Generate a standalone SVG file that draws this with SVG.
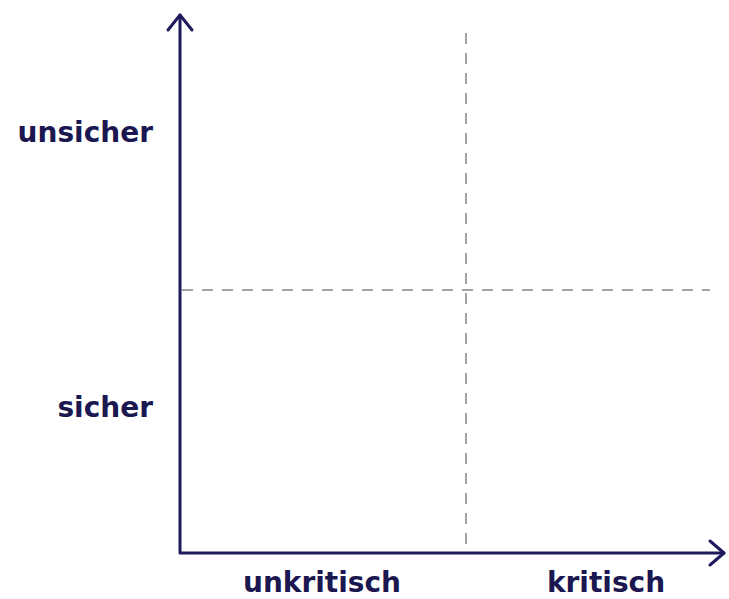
<svg xmlns="http://www.w3.org/2000/svg" width="729" height="599" viewBox="0 0 729 599">
<style>
.axis{stroke:#1f1a5c;stroke-width:3;fill:none;stroke-linecap:round;stroke-linejoin:round}
.grid{stroke:#a3a3a3;stroke-width:2;stroke-dasharray:11 9;fill:none}
.lbl{font-family:"DejaVu Sans",sans-serif;font-weight:bold;font-size:28px;fill:#1b1750}
</style>
<rect width="729" height="599" fill="#ffffff"/>
<g id="grid">
<line class="grid" x1="466" y1="33" x2="466" y2="551"/>
<line class="grid" x1="182" y1="290" x2="710" y2="290"/>
</g>
<g id="connectors">
<path class="axis" d="M180,15 L180,553 L724,553"/>
<path class="axis" d="M168,30 L180,15 L192,30"/>
<path class="axis" d="M710,541 L724,553 L710,565"/>
</g>
<g id="label-unsicher"><text class="lbl" x="153" y="142" text-anchor="end">unsicher</text></g>
<g id="label-sicher"><text class="lbl" x="153" y="417" text-anchor="end">sicher</text></g>
<g id="label-unkritisch"><text class="lbl" x="322" y="592" text-anchor="middle">unkritisch</text></g>
<g id="label-kritisch"><text class="lbl" x="606" y="592" text-anchor="middle">kritisch</text></g>
</svg>
